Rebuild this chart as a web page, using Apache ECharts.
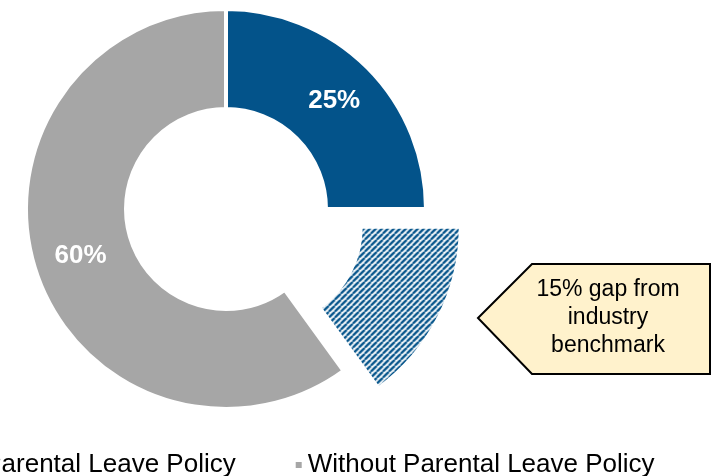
<!DOCTYPE html>
<html>
<head>
<meta charset="utf-8">
<script src="https://cdn.jsdelivr.net/npm/echarts@6/dist/echarts.min.js"></script>
<style>
  html, body { margin: 0; padding: 0; background: #fff; }
  #chart { width: 713px; height: 476px; }
</style>
</head>
<body>
<div id="chart"></div>
<script>
// data
var sliceNames = ['With Parental Leave Policy', 'Industry gap', 'Without Parental Leave Policy'];
var sliceValues = [25, 15, 60];
var sliceColors = ['#03538A', '#03538A', '#A6A6A6'];
var legendNames = ['With Parental Leave Policy', 'Without Parental Leave Policy'];
var calloutText = '15% gap from\nindustry\nbenchmark';

// diagonal stripe pattern for the gap slice
function makeHatch() {
  var c = document.createElement('canvas');
  var s = 6;
  c.width = s; c.height = s;
  var ctx = c.getContext('2d');
  ctx.fillStyle = '#fff';
  ctx.fillRect(0, 0, s, s);
  ctx.strokeStyle = '#03538A';
  ctx.lineWidth = 2.4;
  for (var k = -1; k <= 1; k++) {
    ctx.beginPath();
    ctx.moveTo(k * s, s);
    ctx.lineTo(k * s + s, 0);
    ctx.stroke();
  }
  return c;
}

var hatch = makeHatch();

var pieData = sliceNames.map(function (n, i) {
  var item = { name: n, value: sliceValues[i], itemStyle: { color: sliceColors[i] } };
  if (i === 1) {
    item.itemStyle = { color: { image: hatch, repeat: 'repeat' } };
    item.selected = true;
    item.label = { show: false };
  }
  return item;
});

var myChart = echarts.init(document.getElementById('chart'));
myChart.setOption({
  animation: false,
  textStyle: { fontFamily: '"Liberation Sans", Arial, sans-serif' },
  legend: {
    data: legendNames,
    left: -89,
    top: 452,
    padding: 0,
    itemGap: 58,
    itemWidth: 8,
    itemHeight: 8,
    icon: 'rect',
    selectedMode: false,
    textStyle: { fontSize: 26, color: '#000', lineHeight: 26 }
  },
  series: [{
    type: 'pie',
    center: [226, 209],
    radius: [100, 200],
    startAngle: 90,
    clockwise: true,
    selectedMode: 'single',
    selectedOffset: 39,
    avoidLabelOverlap: false,
    itemStyle: { borderColor: '#fff', borderWidth: 4 },
    label: {
      show: true,
      position: 'inside',
      formatter: '{c}%',
      color: '#fff',
      fontSize: 26,
      fontWeight: 'bold'
    },
    labelLine: { show: false },
    emphasis: { disabled: true },
    data: pieData
  }],
  graphic: [{
    type: 'polygon',
    shape: { points: [[478, 318], [532, 264], [710, 264], [710, 374], [532, 374]] },
    style: { fill: '#FFF2CC', stroke: '#000', lineWidth: 2 }
  }, {
    type: 'text',
    x: 608,
    y: 318,
    style: {
      text: calloutText,
      align: 'center',
      verticalAlign: 'middle',
      font: '23px "Liberation Sans", Arial, sans-serif',
      lineHeight: 28,
      fill: '#000'
    }
  }]
});
</script>
</body>
</html>
